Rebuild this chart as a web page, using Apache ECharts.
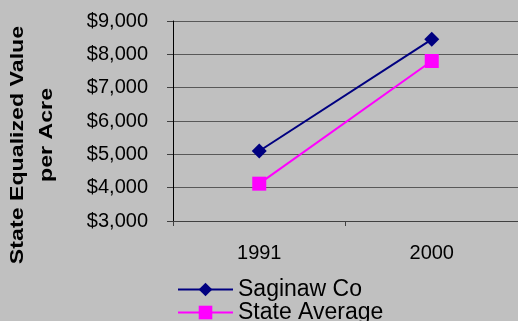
<!DOCTYPE html>
<html>
<head>
<meta charset="utf-8">
<script src="https://cdn.jsdelivr.net/npm/echarts@6/dist/echarts.min.js"></script>
<style>html,body{margin:0;padding:0;background:#c0c0c0;}#c{width:518px;height:321px;}</style>
</head>
<body>
<div id="c"></div>
<script>
var categories = ['1991', '2000'];
var saginaw = [5100, 8450];
var stateAvg = [4120, 7800];
var yTicks = { min: 3000, max: 9000, interval: 1000 };
var titleLines = ['State Equalized Value', 'per Acre'];

var chart = echarts.init(document.getElementById('c'), null, { renderer: 'canvas' });
var font = 'Liberation Sans, Arial, sans-serif';
chart.setOption({
  backgroundColor: '#c0c0c0',
  animation: false,
  grid: { left: 173, top: 21, width: 350, height: 200, containLabel: false },
  xAxis: {
    type: 'category',
    data: categories,
    boundaryGap: true,
    axisLine: { lineStyle: { color: '#404040', width: 1 } },
    axisTick: { show: true, length: 5, lineStyle: { color: '#404040' } },
    axisLabel: { color: '#000', fontFamily: font, fontSize: 20, margin: 22 },
    splitLine: { show: false }
  },
  yAxis: {
    type: 'value',
    min: yTicks.min, max: yTicks.max, interval: yTicks.interval,
    axisLine: { show: true, lineStyle: { color: '#000', width: 1 } },
    axisTick: { show: true, length: 6, lineStyle: { color: '#404040' } },
    axisLabel: {
      color: '#000', fontFamily: font, fontSize: 20, margin: 25,
      formatter: function (v) { return '$' + v.toLocaleString('en-US'); }
    },
    splitLine: { show: true, lineStyle: { color: '#585858', width: 1.2 } }
  },
  legend: {
    orient: 'vertical',
    left: 172, top: 273, height: 60,
    itemWidth: 55, itemHeight: 17, itemGap: 0,
    textStyle: { color: '#000', fontFamily: font, fontSize: 23, lineHeight: 21, padding: [0, 0, 0, 0] },
    data: ['Saginaw Co', 'State Average']
  },
  graphic: [
    { type: 'text', x: 8, y: 145, rotation: Math.PI / 2, scaleX: 1.22,
      style: { text: titleLines[0], font: 'bold 19px ' + font, fill: '#000', textAlign: 'center', textVerticalAlign: 'top' } },
    { type: 'text', x: 37, y: 135, rotation: Math.PI / 2, scaleX: 1.22,
      style: { text: titleLines[1], font: 'bold 19px ' + font, fill: '#000', textAlign: 'center', textVerticalAlign: 'top' } }
  ],
  series: [
    { name: 'Saginaw Co', type: 'line', data: saginaw, symbol: 'diamond', symbolSize: 15,
      itemStyle: { color: '#000080' }, lineStyle: { color: '#000080', width: 2 } },
    { name: 'State Average', type: 'line', data: stateAvg, symbol: 'rect', symbolSize: 14,
      itemStyle: { color: '#ff00ff' }, lineStyle: { color: '#ff00ff', width: 2 } }
  ]
});
</script>
</body>
</html>
